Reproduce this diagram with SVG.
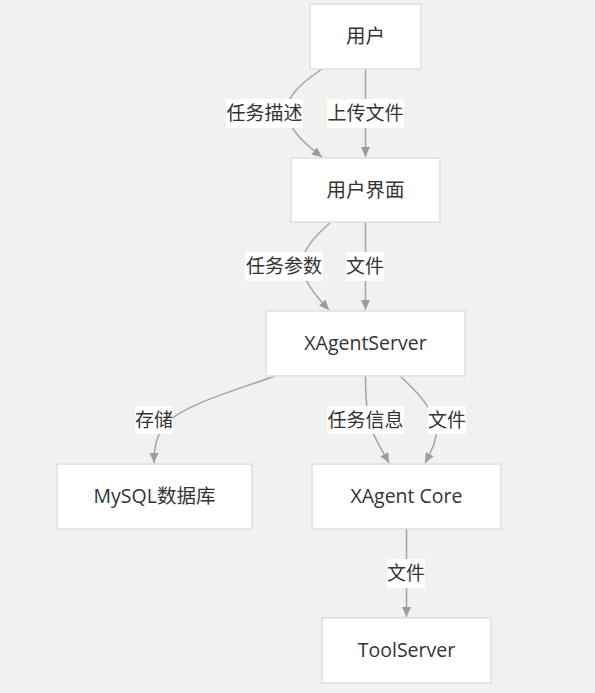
<svg xmlns="http://www.w3.org/2000/svg" width="595" height="693" viewBox="0 0 595 693">
<defs>
<style>
.node rect{fill:#ffffff;stroke:#dedede;stroke-width:1.5}
.node text{font-family:"Open Sans","Noto Sans CJK SC",sans-serif;font-size:19.5px;fill:#333333;text-anchor:middle}
.edge{fill:none;stroke:#a3a3a3;stroke-width:1.5}
.lbl rect{fill:#ffffff}
.lbl text{font-family:"Open Sans","Noto Sans CJK SC",sans-serif;font-size:19px;fill:#333333;text-anchor:middle}
</style>
<marker id="arr" viewBox="0 0 10 10" refX="10" refY="5" markerWidth="10" markerHeight="9" markerUnits="userSpaceOnUse" orient="auto" preserveAspectRatio="none">
<path d="M0,0 L10,5 L0,10 z" fill="#9c9c9c"/>
</marker>
</defs>
<rect x="0" y="0" width="595" height="693" fill="#f2f1ef"/>
<g id="connectors">
<path class="edge" d="M322,69 C297,86 286,98 287,113 C289,130 305,144 322,157" marker-end="url(#arr)"/>
<path class="edge" d="M365.5,69 L365.5,157" marker-end="url(#arr)"/>
<path class="edge" d="M330,223 C315,236 304,248 302,262 C302,280 315,295 329,310" marker-end="url(#arr)"/>
<path class="edge" d="M365.5,222 L365.5,310" marker-end="url(#arr)"/>
<path class="edge" d="M275,376 C230,392 185,405 168,422 C156,434 154,448 154,463" marker-end="url(#arr)"/>
<path class="edge" d="M365.5,376 C365.5,395 366,410 370,425 C375,440 382,450 389,463" marker-end="url(#arr)"/>
<path class="edge" d="M400,376 C415,390 428,403 435,420 C440,435 432,450 425,463" marker-end="url(#arr)"/>
<path class="edge" d="M406.5,529 L406.5,617" marker-end="url(#arr)"/>
</g>
<g id="labels">
<g class="lbl"><rect x="226" y="99" width="77" height="29"/><text x="264.5" y="120">任务描述</text></g>
<g class="lbl"><rect x="327" y="99" width="77" height="29"/><text x="365.5" y="120">上传文件</text></g>
<g class="lbl"><rect x="245" y="252" width="78" height="29"/><text x="284" y="273">任务参数</text></g>
<g class="lbl"><rect x="346" y="252" width="38" height="29"/><text x="365" y="273">文件</text></g>
<g class="lbl"><rect x="135" y="406" width="38" height="28"/><text x="154" y="426.5">存储</text></g>
<g class="lbl"><rect x="327" y="406" width="77" height="28"/><text x="365.5" y="426.5">任务信息</text></g>
<g class="lbl"><rect x="428" y="406" width="38" height="28"/><text x="447" y="426.5">文件</text></g>
<g class="lbl"><rect x="387" y="559" width="38" height="29"/><text x="406" y="580">文件</text></g>
</g>
<g id="user" class="node"><rect x="310" y="4" width="111" height="65"/><text x="365.5" y="43">用户</text></g>
<g id="ui" class="node"><rect x="291" y="158" width="149" height="64"/><text x="365.5" y="196.5">用户界面</text></g>
<g id="xagentserver" class="node"><rect x="266" y="311" width="199" height="65"/><text x="365.5" y="350">XAgentServer</text></g>
<g id="mysql" class="node"><rect x="57" y="464" width="195" height="65"/><text x="154.5" y="503">MySQL数据库</text></g>
<g id="xagentcore" class="node"><rect x="312" y="464" width="189" height="65"/><text x="406.5" y="503">XAgent Core</text></g>
<g id="toolserver" class="node"><rect x="322" y="618" width="169" height="65"/><text x="406.5" y="657">ToolServer</text></g>
</svg>
